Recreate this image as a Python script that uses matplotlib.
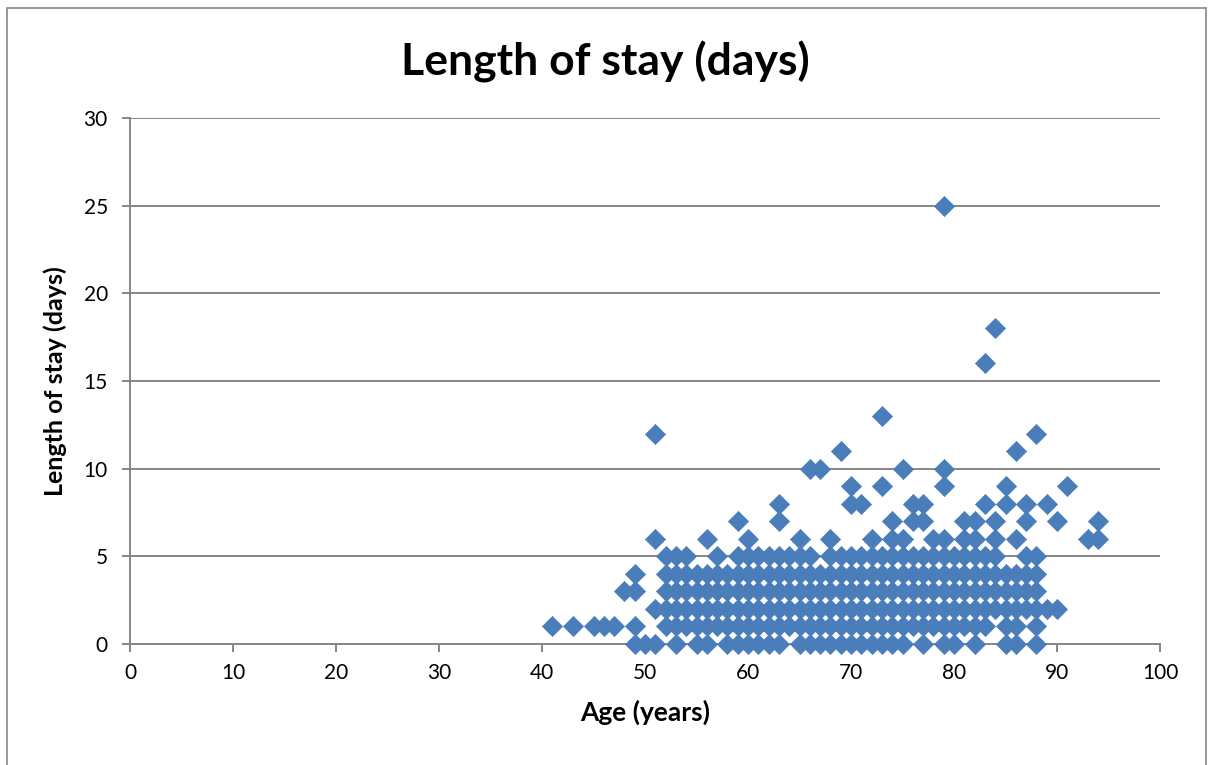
import matplotlib
matplotlib.use("Agg")
from matplotlib import pyplot as plt
from matplotlib.patches import Rectangle

plt.rcParams['font.family'] = ['Lato', 'DejaVu Sans']

# ages (years) of patients for each length of stay (days)
stay_0 = [49, 50, 51, 53, 55, 56, 58, 59, 60, 61, 62, 63, 65, 66, 67, 68, 69, 70,
          71, 72, 73, 74, 75, 77, 79, 80, 82, 85, 86, 88]
stay_1 = [41, 43, 45, 46, 47, 49, 52, 53, 54, 55, 56, 57, 58, 59, 60, 61, 62, 63,
          64, 65, 66, 67, 68, 69, 70, 71, 72, 73, 74, 75, 76, 77, 78, 79, 80, 81,
          82, 83, 85, 86, 88]
stay_2 = [51, 52, 53, 54, 55, 56, 57, 58, 59, 60, 61, 62, 63, 64, 65, 66, 67, 68,
          69, 70, 71, 72, 73, 74, 75, 76, 77, 78, 79, 80, 81, 82, 83, 84, 85, 86,
          87, 88, 89, 90]
stay_3 = [48, 49, 52, 53, 54, 55, 56, 57, 58, 59, 60, 61, 62, 63, 64, 65, 66, 67,
          68, 69, 70, 71, 72, 73, 74, 75, 76, 77, 78, 79, 80, 81, 82, 83, 84, 85,
          86, 87, 88]
stay_4 = [49, 52, 53, 54, 55, 56, 57, 58, 59, 60, 61, 62, 63, 64, 65, 66, 67, 68,
          69, 70, 71, 72, 73, 74, 75, 76, 77, 78, 79, 80, 81, 82, 83, 84, 85, 86,
          87, 88]
stay_5 = [52, 53, 54, 57, 59, 60, 61, 62, 63, 64, 65, 66, 68, 69, 70, 71, 72, 73,
          74, 75, 76, 77, 78, 79, 80, 81, 82, 83, 84, 87, 88]
stay_6 = [51, 56, 60, 65, 68, 72, 74, 75, 78, 79, 81, 82, 84, 86, 93, 94]
stay_7 = [59, 63, 74, 76, 77, 81, 82, 84, 87, 90, 94]
stay_8 = [63, 70, 71, 76, 77, 83, 85, 87, 89]
stay_9 = [70, 73, 79, 85, 91]
stay_10 = [66, 67, 75, 79]
stay_11 = [69, 86]
stay_12 = [51, 88]
stay_13 = [73]
stay_16 = [83]
stay_18 = [84]
stay_25 = [79]

rows = {0: stay_0, 1: stay_1, 2: stay_2, 3: stay_3, 4: stay_4, 5: stay_5,
        6: stay_6, 7: stay_7, 8: stay_8, 9: stay_9, 10: stay_10, 11: stay_11,
        12: stay_12, 13: stay_13, 16: stay_16, 18: stay_18, 25: stay_25}
age = []
los = []
for d, ages in rows.items():
    age += ages
    los += [d] * len(ages)

fig = plt.figure(figsize=(12.1, 7.65), dpi=100)
ax = fig.add_axes([130 / 1210, 1 - 644 / 765, 1030 / 1210, 526 / 765])

grid_c = '#868686'
ax.scatter(age, los, marker='D', s=105, color='#4A7EBB', edgecolors='#4A7EBB',
           linewidths=0.5, zorder=3, clip_on=False)

ax.set_xlim(0, 100)
ax.set_ylim(0, 30)
ax.set_xticks(range(0, 101, 10))
ax.set_yticks(range(0, 31, 5))
ax.yaxis.grid(True, color=grid_c, linewidth=1.4)
ax.set_axisbelow(True)
for s in ['top', 'right']:
    ax.spines[s].set_visible(False)
for s in ['left', 'bottom']:
    ax.spines[s].set_color(grid_c)
    ax.spines[s].set_linewidth(1.4)
ax.tick_params(axis='both', colors=grid_c, labelcolor='black', labelsize=15,
               length=6, width=1.4, direction='out')
ax.tick_params(axis='x', pad=8)
ax.tick_params(axis='y', pad=10)

ax.set_xlabel('Age (years)', fontsize=19, fontweight='bold', labelpad=12)
ax.set_ylabel('Length of stay (days)', fontsize=18, fontweight='bold', labelpad=12)
fig.text(0.5, 1 - 62 / 765, 'Length of stay (days)', fontsize=32, fontweight='bold',
         ha='center', va='center')

fig.patches.append(Rectangle((7 / 1210, -0.01), 1199 / 1210, 0.999, transform=fig.transFigure,
                             fill=False, edgecolor='#888888', linewidth=1.2))

fig.savefig('out.png', dpi=100)
